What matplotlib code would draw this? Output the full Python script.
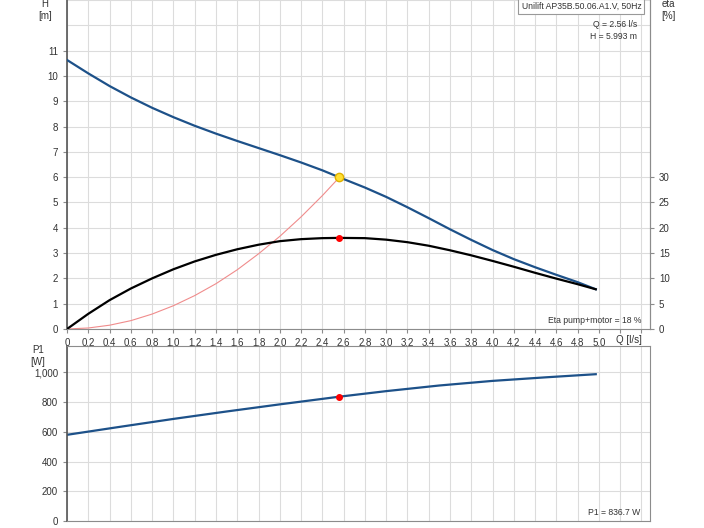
import numpy as np
import matplotlib.pyplot as plt

plt.rcParams['font.family'] = ['Liberation Sans', 'DejaVu Sans']

# pump curve H(Q)
q_h = [0, 0.2, 0.4, 0.6, 0.8, 1.0, 1.2, 1.4, 1.6, 1.8, 2.0, 2.2, 2.4, 2.56,
       2.8, 3.0, 3.2, 3.4, 3.6, 3.8, 4.0, 4.2, 4.4, 4.6, 4.8, 4.97]
h = [10.63, 10.10, 9.60, 9.15, 8.74, 8.37, 8.03, 7.72, 7.43, 7.15, 6.87, 6.58,
     6.27, 5.993, 5.59, 5.22, 4.81, 4.38, 3.94, 3.52, 3.12, 2.76, 2.44, 2.14,
     1.85, 1.57]

# efficiency eta(Q) in %
q_eta = [0, 0.2, 0.4, 0.6, 0.8, 1.0, 1.2, 1.4, 1.6, 1.8, 2.0, 2.2, 2.4, 2.56,
         2.8, 3.0, 3.2, 3.4, 3.6, 3.8, 4.0, 4.2, 4.4, 4.6, 4.8, 4.97]
eta = [0, 3.0, 5.7, 8.0, 10.0, 11.8, 13.35, 14.65, 15.75, 16.65, 17.35, 17.75,
       17.95, 18.0, 17.95, 17.65, 17.15, 16.45, 15.55, 14.55, 13.45, 12.3,
       11.1, 9.95, 8.85, 7.85]

# system curve through the duty point
q_sys = [0, 0.2, 0.4, 0.6, 0.8, 1.0, 1.2, 1.4, 1.6, 1.8, 2.0, 2.2, 2.4, 2.56]
h_sys = [0, 0.04, 0.15, 0.33, 0.59, 0.92, 1.32, 1.79, 2.34, 2.97, 3.66, 4.43,
         5.27, 5.993]

# power input P1(Q)
q_p = [0, 0.5, 1.0, 1.5, 2.0, 2.56, 3.0, 3.5, 4.0, 4.5, 4.97]
p1 = [580, 634, 687, 737, 785, 836.7, 874, 912, 943, 967, 988]

q_duty, h_duty, eta_duty, p_duty = 2.56, 5.993, 18, 836.7

blue = '#1d5189'
grid_c = '#dcdcdc'
spine_c = '#8c8c8c'
txt_c = '#333333'
fs = 7
fs_note = 6.2

fig = plt.figure(figsize=(7.04, 5.28), dpi=100)
ax = fig.add_axes([0.0952, 0.3769, 0.8281, 0.6231])
ax2 = ax.twinx()
axp = fig.add_axes([0.0952, 0.0133, 0.8281, 0.332])

xt = np.round(np.arange(0, 5.41, 0.2), 1)
xl = ['0'] + [f'{v:.1f}' for v in xt[1:]]
xl = [l if v <= 5.0 else '' for l, v in zip(xl, xt)]

for a in (ax, axp):
    a.set_xlim(0, 5.48)
    a.set_xticks(xt)
    a.grid(True, color=grid_c, lw=0.8)
    a.set_axisbelow(True)
    for s in a.spines.values():
        s.set_color(spine_c)
    a.spines['left'].set_color('#555555')
    a.spines['left'].set_linewidth(1.2)
    a.tick_params(colors=spine_c, labelcolor=txt_c, labelsize=fs, length=3, width=0.8)

ax.set_xticklabels(xl)
ax.set_ylim(0, 13)
ax.set_yticks(range(0, 12))
ax.set_yticks(range(0, 14), minor=True)
ax.grid(True, which='minor', axis='y', color=grid_c, lw=0.8)
ax.tick_params(which='minor', length=0)
ax.spines['top'].set_visible(False)

ax2.set_ylim(0, 65)
ax2.set_yticks(range(0, 31, 5))
ax2.tick_params(colors=spine_c, labelcolor=txt_c, labelsize=fs, length=3, width=0.8)
for s in ax2.spines.values():
    s.set_visible(False)
ax2.spines['right'].set_visible(True)
ax2.spines['right'].set_color(spine_c)

ax.plot(q_sys, h_sys, color='#f08c8c', lw=0.8, zorder=2)
ax.plot(q_h, h, color=blue, lw=1.6, zorder=3)
ax2.plot(q_eta, eta, color='black', lw=1.6, zorder=3)
ax2.plot(q_duty, eta_duty, 'o', color='red', ms=4, zorder=4)
ax.plot(q_duty, h_duty, 'o', color='#ffe033', mec='#e0b000', ms=6, zorder=5)

axp.set_ylim(0, 1180)
axp.set_yticks(range(0, 1001, 200))
axp.set_yticklabels(['0', '200', '400', '600', '800', '1,000'])
axp.set_xticklabels([])
axp.tick_params(axis='x', length=0)
axp.plot(q_p, p1, color=blue, lw=1.6)
axp.plot(q_duty, p_duty, 'o', color='red', ms=4, zorder=4)

fig.text(45 / 704, 1 - 10 / 528, 'H\n[m]', ha='center', va='center', fontsize=fs, color=txt_c)
fig.text(668 / 704, 1 - 10 / 528, 'eta\n[%]', ha='center', va='center', fontsize=fs, color=txt_c)
fig.text(38 / 704, 1 - 356 / 528, 'P1\n[W]', ha='center', va='center', fontsize=fs, color=txt_c)
fig.text(642 / 704, 1 - 340 / 528, 'Q [l/s]', ha='right', va='center', fontsize=fs, color=txt_c)

ax.text(0.985, 0.995, 'Unilift AP35B.50.06.A1.V, 50Hz', transform=ax.transAxes,
        ha='right', va='top', fontsize=fs_note, color=txt_c,
        bbox=dict(boxstyle='square,pad=0.35', fc='white', ec='#999999', lw=0.8))
ax.text(0.978, 0.94, f'Q = {q_duty} l/s\nH = {h_duty} m', transform=ax.transAxes,
        ha='right', va='top', fontsize=fs_note, color=txt_c, linespacing=1.5)
ax.text(0.985, 0.012, f'Eta pump+motor = {eta_duty} %', transform=ax.transAxes,
        ha='right', va='bottom', fontsize=fs_note, color=txt_c)
axp.text(0.983, 0.025, f'P1 = {p_duty} W', transform=axp.transAxes,
         ha='right', va='bottom', fontsize=fs_note, color=txt_c)

fig.savefig('out.png', dpi=100)
